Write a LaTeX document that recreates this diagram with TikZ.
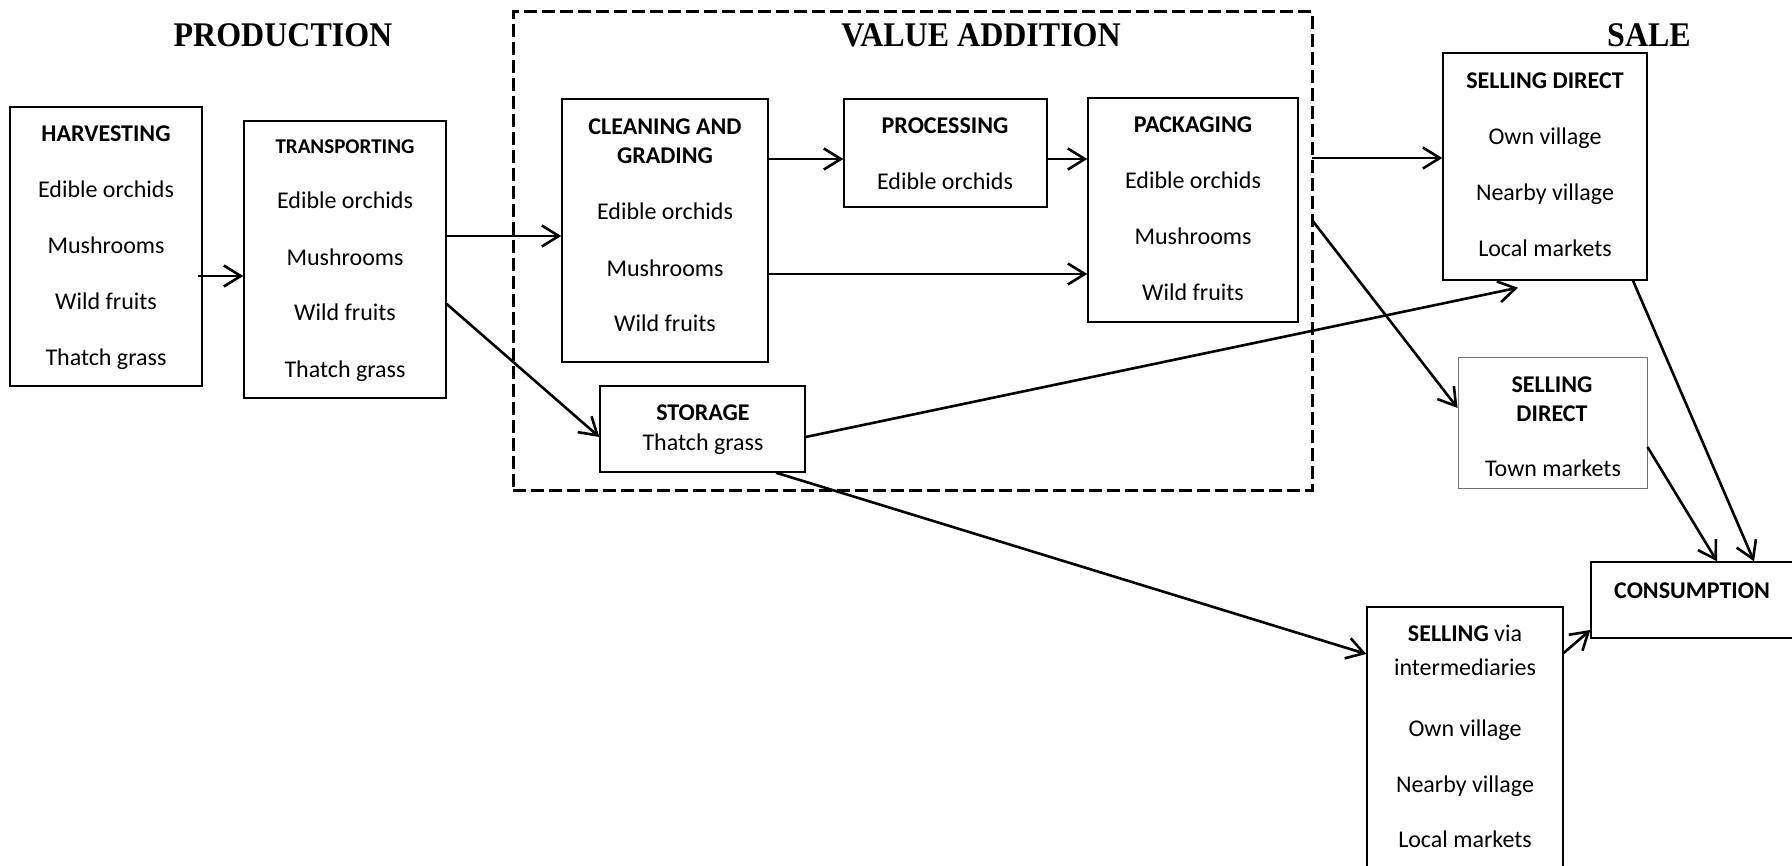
\documentclass[tikz,border=0pt]{standalone}
\usepackage{fontspec}
\setmainfont{Carlito}
\newfontfamily\titlefont{Liberation Serif}
\usetikzlibrary{arrows.meta,fit}
\begin{document}
\begin{tikzpicture}[x=0.5pt,y=-0.5pt,
  box/.style={draw, line width=0.7pt, inner sep=0pt},
  lightbox/.style={draw=black!55, line width=0.5pt, inner sep=0pt},
  dashbox/.style={draw, line width=1.5pt, dash pattern=on 6.5pt off 2.5pt, inner sep=0pt, outer sep=0pt},
  txt/.style={inner sep=0pt, yshift=-0.8pt, text height=7.7pt, text depth=0pt, font=\fontsize{12}{14}\selectfont},
  hd/.style={txt, font=\fontsize{12}{14}\selectfont\bfseries},
  ttl/.style={inner sep=0pt, text height=11.5pt, text depth=0pt, font=\titlefont\bfseries\fontsize{16}{18}\selectfont},
  arr/.style={line width=1.3pt, -{Straight Barb[length=8.5pt,width=10.5pt,line width=1.3pt]}}
]
\path[use as bounding box] (0,0) rectangle (1792,866);

% titles
\node[ttl] (tprod) at (283,35) {\scalebox{1}[1.08]{PRODUCTION}};
\node[ttl] (tva) at (981,35) {\scalebox{1}[1.08]{VALUE ADDITION}};
\node[ttl] (tsale) at (1649,35) {\scalebox{1}[1.08]{SALE}};

% value addition frame
\node[dashbox, fit={(513,12) (1312,490)}] (va) {};

% boxes
\node[box, fit={(10,107) (202,386)}] (harv) {};
\node[box, fit={(244,121) (446,398)}] (trans) {};
\node[box, fit={(562,99) (768,362)}] (clean) {};
\node[box, fit={(844,99) (1047,207)}] (proc) {};
\node[box, fit={(1088,98) (1298,322)}] (pack) {};
\node[box, fit={(600,386) (805,472)}] (stor) {};
\node[box, fit={(1443,53) (1647,280)}] (sd1) {};
\node[lightbox, fit={(1458,357) (1647,488)}] (sd2) {};
\node[box, fit={(1591,562) (1800,638)}] (cons) {};
\node[box, fit={(1367,607) (1563,880)}] (sel) {};

% texts: harvesting
\node[hd] (h0) at (106,132) {HARVESTING};
\node[txt] (h1) at (106,188) {Edible orchids};
\node[txt] (h2) at (106,244) {Mushrooms};
\node[txt] (h3) at (106,300) {Wild fruits};
\node[txt] (h4) at (106,356) {Thatch grass};
% transporting
\node[txt, font=\fontsize{10.5}{12}\selectfont\bfseries, text height=6.8pt] (t0) at (345,145) {TRANSPORTING};
\node[txt] (t1) at (345,199) {Edible orchids};
\node[txt] (t2) at (345,256) {Mushrooms};
\node[txt] (t3) at (345,311) {Wild fruits};
\node[txt] (t4) at (345,368) {Thatch grass};
% cleaning
\node[hd] (c0) at (665,125) {CLEANING AND};
\node[hd] (c0b) at (665,154) {GRADING};
\node[txt] (c1) at (665,210) {Edible orchids};
\node[txt] (c2) at (665,267) {Mushrooms};
\node[txt] (c3) at (665,322) {Wild fruits};
% processing
\node[hd] (p0) at (945,124) {PROCESSING};
\node[txt] (p1) at (945,180) {Edible orchids};
% packaging
\node[hd] (k0) at (1193,123) {PACKAGING};
\node[txt] (k1) at (1193,179) {Edible orchids};
\node[txt] (k2) at (1193,235) {Mushrooms};
\node[txt] (k3) at (1193,291) {Wild fruits};
% storage
\node[hd] (s0) at (703,411) {STORAGE};
\node[txt] (s1) at (703,441) {Thatch grass};
% selling direct 1
\node[hd] (d0) at (1545,79) {SELLING DIRECT};
\node[txt] (d1) at (1545,135) {Own village};
\node[txt] (d2) at (1545,191) {Nearby village};
\node[txt] (d3) at (1545,247) {Local markets};
% selling direct 2
\node[hd] (e0) at (1552,383) {SELLING};
\node[hd] (e0b) at (1552,412) {DIRECT};
\node[txt] (e1) at (1553,467) {Town markets};
% consumption
\node[hd] (n0) at (1692,589) {CONSUMPTION};
% selling via intermediaries
\node[txt] (v0) at (1465,632) {\textbf{SELLING} via};
\node[txt] (v0b) at (1465,666) {intermediaries};
\node[txt] (v1) at (1465,727) {Own village};
\node[txt] (v2) at (1465,783) {Nearby village};
\node[txt] (v3) at (1465,838) {Local markets};

% connectors
\draw[arr] ([xshift=-2.5pt]harv.east |- 0,276) -- (trans.west |- 0,276);
\draw[arr] (trans.east |- 0,236) -- (clean.west |- 0,236);
\draw[arr] (trans.east |- 0,304) -- (stor.west |- 0,437);
\draw[arr] (clean.east |- 0,159) -- (proc.west |- 0,159);
\draw[arr] (proc.east |- 0,159) -- (pack.west |- 0,159);
\draw[arr] (clean.east |- 0,274) -- (pack.west |- 0,274);
\draw[arr] (va.east |- 0,158) -- (sd1.west |- 0,158);
\draw[arr] (va.east |- 0,220) -- (sd2.west |- 0,408);
\draw[arr] (stor.east |- 0,437) -- ([xshift=-13.5pt,yshift=-3.5pt]sd1.south);
\draw[arr] (stor.south -| 776,0) -- (sel.west |- 0,654);
\draw[arr] (sd1.south -| 1633,0) -- (cons.north -| 1754,0);
\draw[arr] (sd2.east |- 0,447) -- (cons.north -| 1717,0);
\draw[arr] (sel.east |- 0,653) -- (cons.west |- 0,630);
\end{tikzpicture}
\end{document}
